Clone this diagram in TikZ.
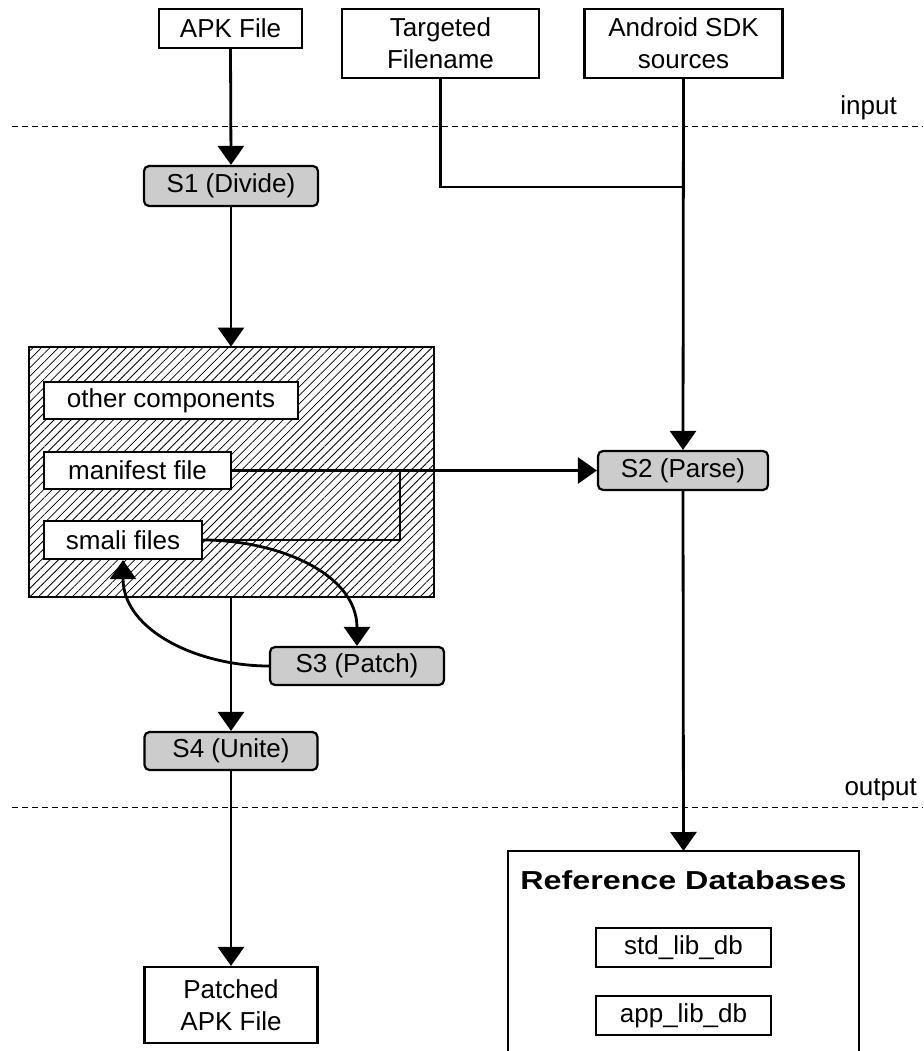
\documentclass[tikz,border=0pt]{standalone}
\usepackage{graphicx}
\usepackage{fontspec}
\setmainfont{Liberation Sans}
\usetikzlibrary{arrows.meta,patterns.meta}
\definecolor{stagegray}{RGB}{204,204,204}

\begin{document}
\begin{tikzpicture}[x=1pt,y=-1pt,
    every node/.style={font=\fontsize{26}{32}\selectfont},
    filebox/.style={draw,line width=2.2pt,fill=white,inner sep=0pt,align=center},
    stage/.style={filebox,fill=stagegray,rounded corners=5pt},
    flow/.style={line width=2.8pt,-{Triangle[width=26pt,length=19pt]}},
    wire/.style={line width=2.8pt},
    border/.style={dashed,line width=1pt,dash pattern=on 6pt off 4pt}]
  \useasboundingbox (0,0) rectangle (923,1051);
  % inputs
  \node[filebox,minimum width=143,minimum height=39] (apk) at (230.5,28.5) {APK File};
  \node[filebox,minimum width=197,minimum height=69] (target) at (440.5,43.5) {Targeted\\Filename};
  \node[filebox,minimum width=198,minimum height=69] (sdk) at (683.5,43.5) {Android SDK\\sources};
  \coordinate (ll) at (12,127); \coordinate (lr) at (923,127);
  \coordinate (ol) at (12,807); \coordinate (or) at (923,807);
  \draw[border] (ll) -- (lr); \draw[border] (ol) -- (or);
  \node[anchor=base east,inner sep=0pt] (inlbl) at (897,115) {input};
  \node[anchor=base east,inner sep=0pt] (outlbl) at (917,795) {output};
  % stages
  \node[stage,minimum width=174,minimum height=40] (s1) at (231,186) {S1 (Divide)};
  \node[stage,minimum width=170,minimum height=39] (s2) at (683,470.5) {S2 (Parse)};
  \node[stage,minimum width=174,minimum height=38] (s3) at (357,666) {S3 (Patch)};
  \node[stage,minimum width=173,minimum height=38] (s4) at (231,751) {S4 (Unite)};
  % unpacked apk
  \node[draw,line width=2.2pt,inner sep=0pt,minimum width=405,minimum height=250,
    pattern={Lines[angle=45,distance=6pt,line width=0.8pt]}] (apkdir) at (231.5,472) {};
  \node[filebox,minimum width=254,minimum height=37] (other) at (171,400.5) {other components};
  \node[filebox,minimum width=187,minimum height=37] (manifest) at (137.5,470.5) {manifest file};
  \node[filebox,minimum width=158,minimum height=38] (smali) at (123,540) {smali files};
  % outputs
  \node[filebox,minimum width=173,minimum height=76] (patched) at (231,1005) {Patched\\APK File};
  \coordinate (dbtop) at (683.5,851);
  \draw[line width=2.2pt] (508,1060) |- (859,851) -- (859,1060);
  \node (refdb) at (683.5,880) {\scalebox{1.24}[1]{\bfseries Reference Databases}};
  \node[filebox,minimum width=175,minimum height=39] (stddb) at (683.5,947.5) {std\_lib\_db};
  \node[filebox,minimum width=175,minimum height=39] (appdb) at (683.5,1015.5) {app\_lib\_db};
  % connectors
  \coordinate (join) at (sdk.south |- 0,187); \coordinate (bend) at (400,470.5);
  \draw[wire] (target.south) |- (join);
  \draw[flow] (sdk.south) -- (s2.north);
  \draw[flow] (apk.south) -- (s1.north);
  \draw[flow] (s1.south) -- (apkdir.north -| s1.south);
  \draw[flow] (manifest.east) -- (s2.west);
  \draw[wire] (smali.east) -| (bend);
  \draw[flow] (smali.east) to[out=0,in=90] (s3.north);
  \draw[flow] (s3.west) to[out=180,in=-90] (smali.south);
  \draw[flow] (apkdir.south -| s4.north) -- (s4.north);
  \draw[flow] (s4.south) -- (patched.north);
  \draw[flow] (s2.south) -- (dbtop);
\end{tikzpicture}
\end{document}
